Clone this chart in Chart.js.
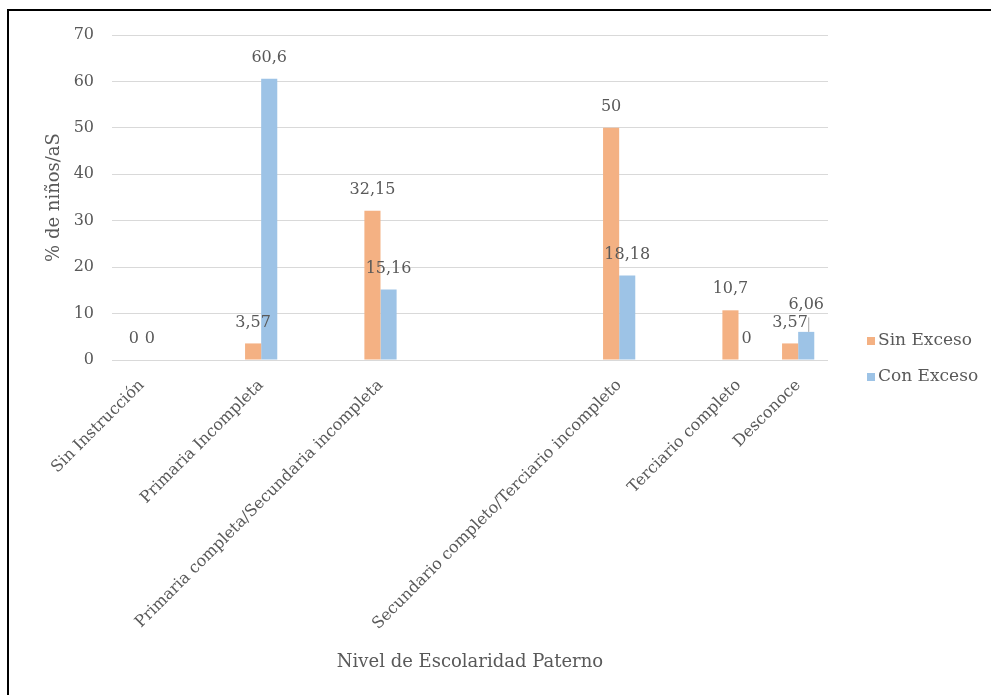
<!DOCTYPE html>
<html>
<head>
<meta charset="utf-8">
<title>Nivel de Escolaridad Paterno</title>
<script src="https://cdn.jsdelivr.net/npm/chart.js@4/dist/chart.umd.min.js"></script>
<style>
    html, body { margin: 0; padding: 0; background: #fff; }
    #wrap { position: relative; width: 991px; height: 695px; overflow: hidden; }
    #frame {
        position: absolute; left: 7px; top: 9px; width: 1200px; height: 900px;
        border-left: 2px solid #000; border-top: 2px solid #000; pointer-events: none;
    }
</style>
</head>
<body>
<div id="wrap">
    <canvas id="chart" width="991" height="695"></canvas>
    <div id="frame"></div>
</div>
<script>
// Empty strings are the blank slots of the original category axis.
const CATEGORIES = [
    'Sin Instrucción', '', 'Primaria Incompleta', '',
    'Primaria completa/Secundaria incompleta', '', '', '',
    'Secundario completo/Terciario incompleto', '', 'Terciario completo', 'Desconoce',
];
const SIN_EXCESO = [0, null, 3.57, null, 32.15, null, null, null, 50, null, 10.7, 3.57];
const CON_EXCESO = [0, null, 60.6, null, 15.16, null, null, null, 18.18, null, 0, 6.06];
const Y_TICKS = [0, 10, 20, 30, 40, 50, 60, 70];

const TEXT_COLOR = '#595959';
const FONT_FAMILY = '"DejaVu Serif", "Liberation Serif", serif';

// value labels above the bars, comma as decimal separator
const valueLabels = {
    id: 'valueLabels',
    afterDatasetsDraw(chart) {
        const ctx = chart.ctx;
        const placed = [];
        ctx.save();
        ctx.font = '16px ' + FONT_FAMILY;
        ctx.fillStyle = TEXT_COLOR;
        ctx.textAlign = 'center';
        ctx.textBaseline = 'middle';
        chart.data.labels.forEach((_, i) => {
            chart.data.datasets.forEach((ds, d) => {
                const v = ds.data[i];
                if (v === null || v === undefined) return;
                const el = chart.getDatasetMeta(d).data[i];
                const text = String(v).replace('.', ',');
                const w = ctx.measureText(text).width;
                let y = el.y - 21;
                let moved = false;
                // push up when it collides with a label already drawn
                for (const p of placed) {
                    if (Math.abs(p.x - el.x) < (p.w + w) / 2 && Math.abs(p.y - y) < 17) {
                        y = p.y - 18;
                        moved = true;
                    }
                }
                if (moved) {
                    ctx.strokeStyle = '#a6a6a6';
                    ctx.lineWidth = 1;
                    ctx.beginPath();
                    ctx.moveTo(el.x + 2.5, y + 13);
                    ctx.lineTo(el.x + 2.5, el.y);
                    ctx.stroke();
                }
                ctx.fillText(text, el.x, y);
                placed.push({ x: el.x, y, w });
            });
        });
        ctx.restore();
    },
};

// legend sitting at the right, next to the bottom of the plot
const sideLegend = {
    id: 'sideLegend',
    afterDraw(chart) {
        const ctx = chart.ctx;
        const area = chart.chartArea;
        ctx.save();
        ctx.font = '17px ' + FONT_FAMILY;
        ctx.textBaseline = 'middle';
        ctx.textAlign = 'left';
        chart.data.datasets.forEach((ds, d) => {
            const x = area.right + 39;
            const y = area.bottom - 19 + d * 36;
            ctx.fillStyle = ds.backgroundColor;
            ctx.fillRect(x, y - 4, 8, 8);
            ctx.fillStyle = TEXT_COLOR;
            ctx.fillText(ds.label, x + 11, y);
        });
        ctx.restore();
    },
};

new Chart(document.getElementById('chart'), {
    type: 'bar',
    data: {
        labels: CATEGORIES,
        datasets: [
            {
                label: 'Sin Exceso',
                data: SIN_EXCESO,
                backgroundColor: '#F4B183',
                categoryPercentage: 0.54,
                barPercentage: 1.0,
            },
            {
                label: 'Con Exceso',
                data: CON_EXCESO,
                backgroundColor: '#9DC3E6',
                categoryPercentage: 0.54,
                barPercentage: 1.0,
            },
        ],
    },
    options: {
        responsive: false,
        animation: false,
        layout: {
            padding: { top: 35, right: 163, bottom: 0, left: 0 },
        },
        plugins: {
            legend: { display: false },
            tooltip: { enabled: false },
        },
        scales: {
            x: {
                grid: { display: false },
                border: { display: false },
                ticks: {
                    autoSkip: false,
                    minRotation: 45,
                    maxRotation: 45,
                    padding: 8,
                    color: TEXT_COLOR,
                    font: { family: FONT_FAMILY, size: 16 },
                },
                title: {
                    display: true,
                    text: 'Nivel de Escolaridad Paterno',
                    color: TEXT_COLOR,
                    font: { family: FONT_FAMILY, size: 18 },
                    padding: { top: 0, bottom: 22 },
                },
                afterFit(scale) {
                    scale.height = 335;
                },
            },
            y: {
                min: 0,
                max: 70,
                afterBuildTicks(scale) {
                    scale.ticks = Y_TICKS.map((v) => ({ value: v }));
                },
                grid: { color: '#D9D9D9', drawTicks: false },
                border: { display: false },
                ticks: {
                    padding: 18,
                    color: TEXT_COLOR,
                    font: { family: FONT_FAMILY, size: 16 },
                },
                title: {
                    display: true,
                    text: '% de niños/aS',
                    color: TEXT_COLOR,
                    font: { family: FONT_FAMILY, size: 18 },
                    padding: { top: 44, bottom: 0 },
                },
                afterFit(scale) {
                    scale.width = 112;
                },
            },
        },
    },
    plugins: [valueLabels, sideLegend],
});
</script>
</body>
</html>
